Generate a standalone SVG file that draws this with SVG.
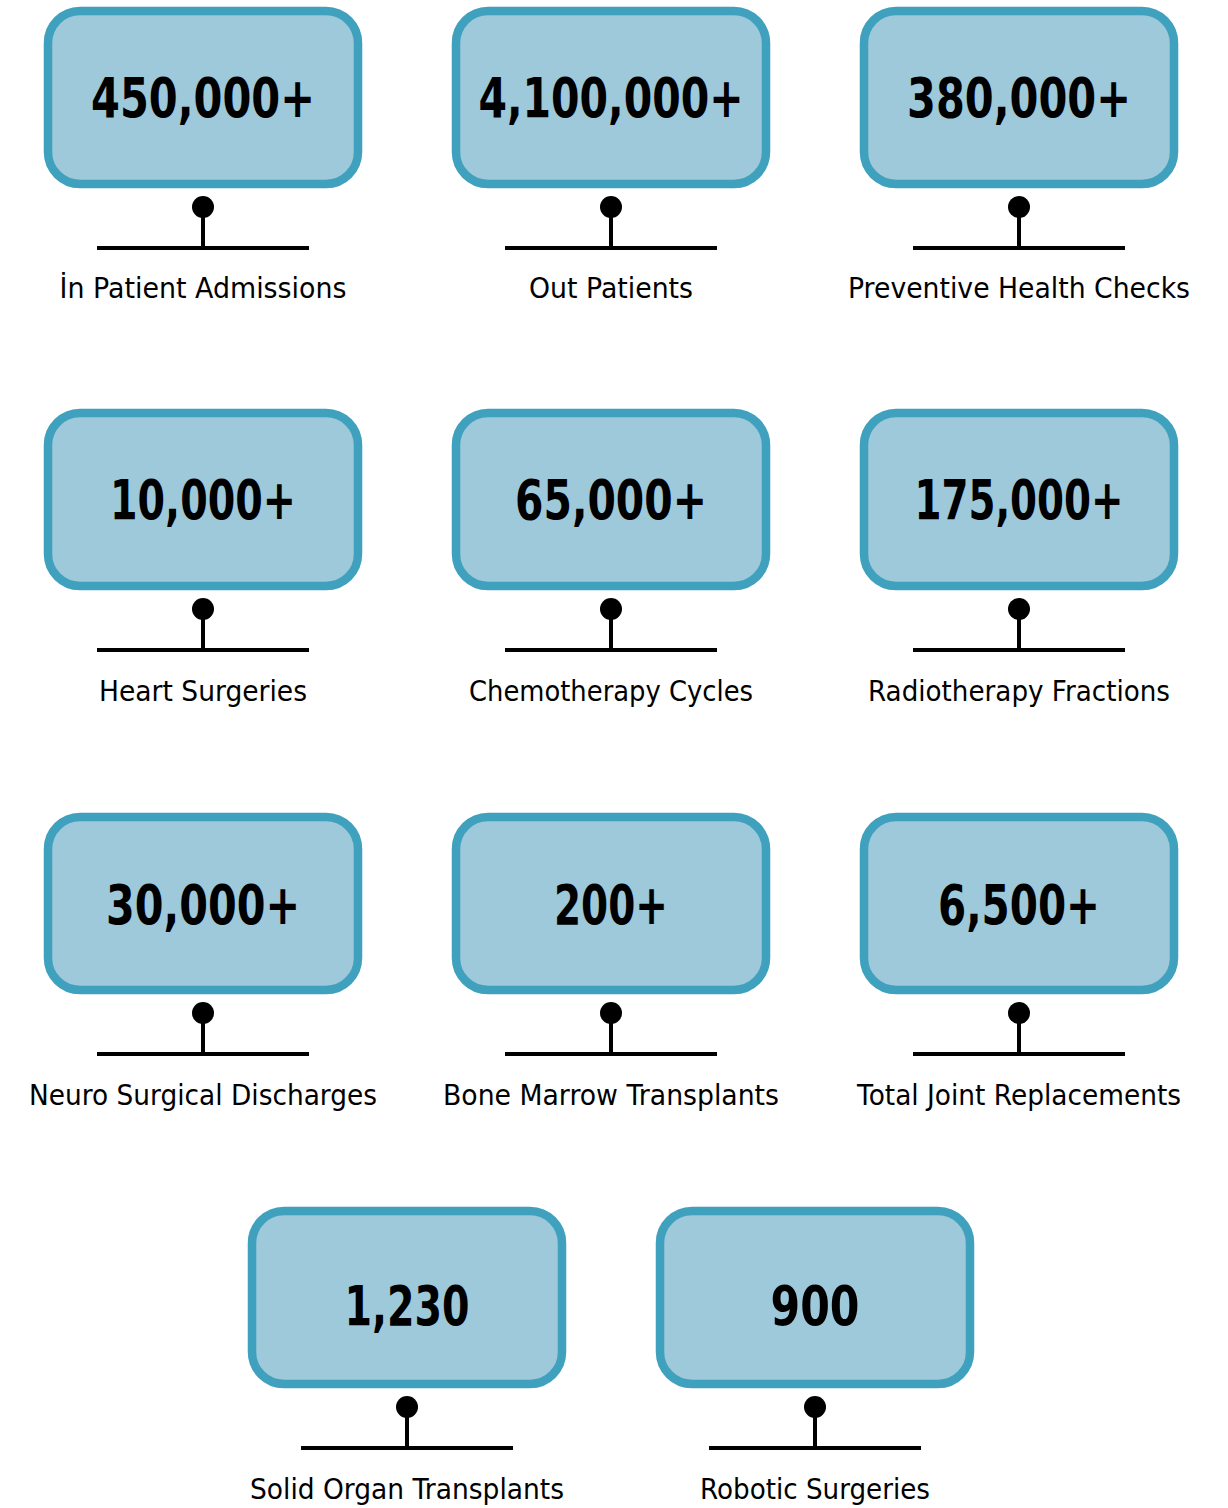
<svg xmlns="http://www.w3.org/2000/svg" width="1228" height="1508" viewBox="0 0 1228 1508">
<style>
.box{fill:#9DC9DA;stroke:#3FA1BE;stroke-width:8.5}
.num{font-family:"DejaVu Sans",sans-serif;font-weight:bold;font-size:55px;fill:#000;text-anchor:middle}
.lbl{font-family:"DejaVu Sans",sans-serif;font-size:29px;fill:#000;text-anchor:middle}
.ln{stroke:#000;stroke-width:4;fill:none}
.dot{fill:#000}
</style>
<defs>
<g id="stem">
<circle class="dot" cx="0" cy="196" r="11"/>
<line class="ln" x1="0" y1="196" x2="0" y2="237"/>
<line class="ln" x1="-106" y1="237" x2="106" y2="237"/>
</g>
</defs>
<g id="connectors">
<use href="#stem" x="203" y="11"/>
<use href="#stem" x="611" y="11"/>
<use href="#stem" x="1019" y="11"/>
<use href="#stem" x="203" y="413"/>
<use href="#stem" x="611" y="413"/>
<use href="#stem" x="1019" y="413"/>
<use href="#stem" x="203" y="817"/>
<use href="#stem" x="611" y="817"/>
<use href="#stem" x="1019" y="817"/>
<use href="#stem" x="407" y="1211"/>
<use href="#stem" x="815" y="1211"/>
</g>
<g id="n1"><rect class="box" x="48" y="11" width="310" height="173" rx="32"/><text class="num" x="203" y="117" textLength="224" lengthAdjust="spacingAndGlyphs">450,000+</text><text class="lbl" x="203" y="298" textLength="287" lengthAdjust="spacingAndGlyphs">İn Patient Admissions</text></g>
<g id="n2"><rect class="box" x="456" y="11" width="310" height="173" rx="32"/><text class="num" x="611" y="117" textLength="265" lengthAdjust="spacingAndGlyphs">4,100,000+</text><text class="lbl" x="611" y="298" textLength="164" lengthAdjust="spacingAndGlyphs">Out Patients</text></g>
<g id="n3"><rect class="box" x="864" y="11" width="310" height="173" rx="32"/><text class="num" x="1019" y="117" textLength="224" lengthAdjust="spacingAndGlyphs">380,000+</text><text class="lbl" x="1019" y="298" textLength="342" lengthAdjust="spacingAndGlyphs">Preventive Health Checks</text></g>
<g id="n4"><rect class="box" x="48" y="413" width="310" height="173" rx="32"/><text class="num" x="203" y="519" textLength="186" lengthAdjust="spacingAndGlyphs">10,000+</text><text class="lbl" x="203" y="701" textLength="208" lengthAdjust="spacingAndGlyphs">Heart Surgeries</text></g>
<g id="n5"><rect class="box" x="456" y="413" width="310" height="173" rx="32"/><text class="num" x="611" y="519" textLength="192" lengthAdjust="spacingAndGlyphs">65,000+</text><text class="lbl" x="611" y="701" textLength="284" lengthAdjust="spacingAndGlyphs">Chemotherapy Cycles</text></g>
<g id="n6"><rect class="box" x="864" y="413" width="310" height="173" rx="32"/><text class="num" x="1019" y="519" textLength="209" lengthAdjust="spacingAndGlyphs">175,000+</text><text class="lbl" x="1019" y="701" textLength="302" lengthAdjust="spacingAndGlyphs">Radiotherapy Fractions</text></g>
<g id="n7"><rect class="box" x="48" y="817" width="310" height="173" rx="32"/><text class="num" x="203" y="924" textLength="194" lengthAdjust="spacingAndGlyphs">30,000+</text><text class="lbl" x="203" y="1105" textLength="348" lengthAdjust="spacingAndGlyphs">Neuro Surgical Discharges</text></g>
<g id="n8"><rect class="box" x="456" y="817" width="310" height="173" rx="32"/><text class="num" x="611" y="924" textLength="114" lengthAdjust="spacingAndGlyphs">200+</text><text class="lbl" x="611" y="1105" textLength="336" lengthAdjust="spacingAndGlyphs">Bone Marrow Transplants</text></g>
<g id="n9"><rect class="box" x="864" y="817" width="310" height="173" rx="32"/><text class="num" x="1019" y="924" textLength="162" lengthAdjust="spacingAndGlyphs">6,500+</text><text class="lbl" x="1019" y="1105" textLength="324" lengthAdjust="spacingAndGlyphs">Total Joint Replacements</text></g>
<g id="n10"><rect class="box" x="252" y="1211" width="310" height="173" rx="32"/><text class="num" x="407" y="1325" textLength="125" lengthAdjust="spacingAndGlyphs">1,230</text><text class="lbl" x="407" y="1499" textLength="314" lengthAdjust="spacingAndGlyphs">Solid Organ Transplants</text></g>
<g id="n11"><rect class="box" x="660" y="1211" width="310" height="173" rx="32"/><text class="num" x="815" y="1325" textLength="89" lengthAdjust="spacingAndGlyphs">900</text><text class="lbl" x="815" y="1499" textLength="230" lengthAdjust="spacingAndGlyphs">Robotic Surgeries</text></g>
</svg>
